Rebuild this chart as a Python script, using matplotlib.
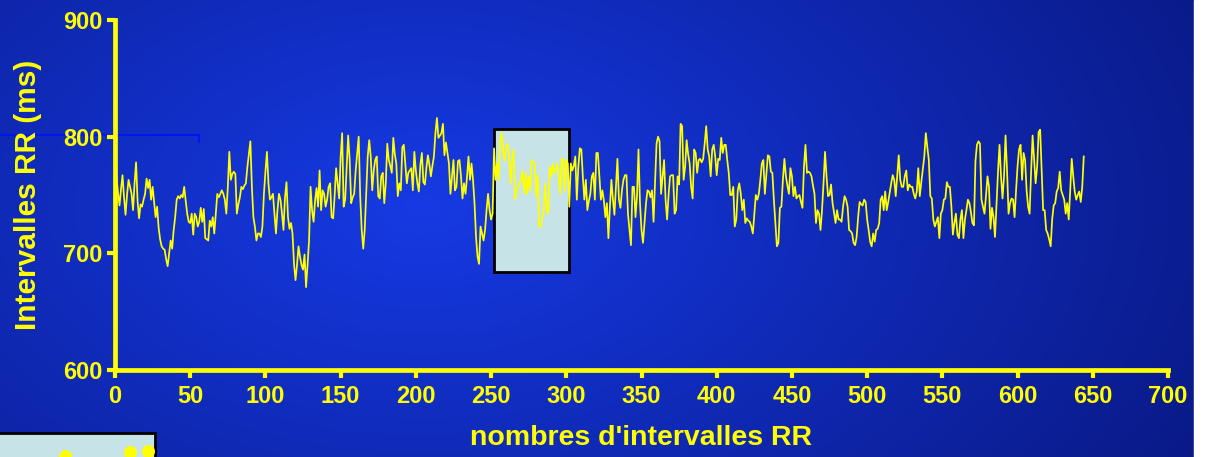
import numpy as np
import matplotlib
matplotlib.use("Agg")
import matplotlib.pyplot as plt
from matplotlib.patches import Rectangle

plt.rcParams['font.family'] = ['Liberation Sans', 'DejaVu Sans']
plt.rcParams['font.weight'] = 'bold'

# RR intervals (ms), beat 1 .. 644
rr_a = [766, 752, 741, 755, 767, 748, 733, 750, 763, 757,
        751, 737, 760, 778, 745, 730, 742, 740, 746, 751,
        764, 756, 763, 746, 757, 744, 731, 740, 722, 712,
        706, 704, 703, 695, 689, 700, 711, 704, 720, 731,
        746, 749, 747, 750, 748, 757, 745, 734, 727, 726,
        734, 716, 734, 731, 723, 727, 739, 727, 738, 713,
        712, 711, 728, 723, 731, 717, 734, 751, 748, 751,
        754, 751, 746, 734, 757, 787, 763, 768, 770, 768,
        734, 742, 748, 757, 755, 758, 760, 774, 785, 796,
        757, 731, 723, 711, 717, 717, 714, 723, 751, 770,
        787, 760, 746, 748, 751, 734, 717, 737, 751, 746,
        734, 720, 748, 761, 731, 721, 726, 717, 691, 677,
        690, 706]
rr_b = [697, 690, 686, 699, 671, 690, 711, 757, 737, 727,
        745, 756, 740, 771, 737, 754, 751, 740, 746, 757,
        760, 731, 730, 749, 773, 760, 747, 783, 803, 740,
        746, 774, 801, 780, 743, 748, 751, 771, 785, 800,
        749, 720, 704, 720, 751, 783, 797, 783, 754, 771,
        780, 783, 749, 747, 766, 769, 743, 760, 794, 780,
        775, 769, 799, 785, 777, 749, 760, 754, 791, 793,
        776, 760, 769, 771, 773, 754, 787, 771, 760, 753,
        776, 786, 761, 759, 773, 784, 776, 766, 775, 783,
        803, 816, 799, 801, 803, 811, 784, 795, 786, 777,
        751, 766, 780, 754, 757, 779, 780, 766, 747, 760,
        751, 765, 783, 763, 777, 763, 743, 714, 697, 691,
        723, 717, 711, 720, 737, 751, 737, 729, 734, 790,
        763, 777, 763, 797, 803, 789, 779, 791, 794, 783,
        760, 780, 789, 746, 754, 757, 760, 763, 771, 751,
        769, 751, 766, 754, 780, 778, 777, 749, 767, 723]
rr_c = [723, 730, 737, 760, 737, 734, 774, 766, 777, 769,
        771, 777, 763, 751, 781, 781, 754, 780, 777, 740,
        777, 771, 775, 783, 746, 774, 790, 789, 766, 746,
        763, 737, 745, 751, 766, 769, 746, 786, 786, 766,
        746, 754, 745, 731, 743, 713, 740, 763, 746, 733,
        757, 781, 746, 739, 754, 763, 767, 767, 734, 720,
        707, 757, 757, 731, 749, 789, 743, 720, 709, 726,
        743, 754, 753, 748, 754, 727, 760, 794, 800, 796,
        751, 766, 780, 746, 729, 750, 766, 767, 767, 734,
        737, 766, 759, 811, 809, 763, 774, 797, 785, 777,
        757, 747, 789, 786, 769, 780, 781, 778, 781, 794,
        809, 789, 783, 766, 789, 793, 783, 767, 781, 780,
        799, 786, 793, 793, 780, 769, 750, 750, 757, 723,
        729, 754, 760, 751, 737, 746, 726, 730, 728, 727,
        723, 717, 734, 750, 746, 751, 763, 777, 780, 751,
        768, 784, 783, 770, 769, 746, 726, 706, 709, 739,
        740, 763, 781, 766, 758, 751, 773, 766, 749, 757]
rr_d = [747, 749, 750, 744, 739, 774, 793, 769, 770, 769,
        766, 758, 751, 726, 737, 734, 720, 737, 760, 787,
        766, 749, 750, 759, 743, 735, 726, 737, 729, 729,
        727, 740, 749, 746, 740, 720, 719, 717, 709, 707,
        714, 731, 744, 742, 741, 746, 744, 729, 720, 710,
        706, 717, 710, 720, 721, 726, 746, 749, 737, 753,
        737, 744, 752, 760, 767, 763, 749, 767, 784, 763,
        757, 757, 766, 771, 754, 759, 757, 757, 751, 747,
        753, 773, 749, 761, 772, 783, 803, 791, 780, 749,
        747, 729, 723, 727, 731, 713, 734, 737, 746, 747,
        761, 757, 757, 740, 716, 726, 734, 716, 713, 729,
        737, 713, 729, 737, 746, 743, 735, 726, 724, 779,
        793, 796, 794, 746, 740, 734, 749, 766, 757, 721,
        739, 731, 714, 743, 770, 793, 766, 747, 766, 801,
        771, 734, 743, 747, 746, 731, 754, 775, 789, 793,
        763, 786, 780, 754, 740, 734, 770, 801, 780, 760,
        774, 804, 806, 771, 737, 737, 720, 717, 712, 706,
        729, 741, 743, 753, 756, 770, 754, 750, 746, 734,
        743, 729, 754, 781, 766, 753, 746, 750, 753, 744,
        757, 783]

rr = np.array(rr_a + rr_b + rr_c + rr_d)
beats = np.arange(1, len(rr) + 1)

x_ticks = list(range(0, 701, 50))
y_ticks = [600, 700, 800, 900]

# highlighted window and leftover blue marker line
box_x = [252, 302]
box_y = [684, 807]
marker_x = [-77, 56, 56]
marker_y = [801, 801, 795]

# dots of the cut-off inset box (figure pixels)
inset_dot_x = [65, 130, 148]
inset_dot_y = [456, 452, 451]

yellow = '#ffff00'
W, H = 1205, 457

fig = plt.figure(figsize=(W / 100, H / 100), dpi=100)

# blue gradient background
bg = fig.add_axes([0, 0, 1, 1], zorder=0)
gx, gy = np.meshgrid(np.linspace(0, 1, 400), np.linspace(1, 0, 200))
t = np.sqrt(((gx - 0.35) / 0.8) ** 2 + ((gy - 0.55) / 1.3) ** 2)
t = np.clip(t, 0, 1)
c0 = np.array([22, 58, 228]) / 255
c1 = np.array([8, 22, 125]) / 255
img = c0[None, None, :] * (1 - t[..., None]) + c1[None, None, :] * t[..., None]
bg.imshow(img, extent=[0, W, 0, H], aspect='auto')
bg.add_patch(Rectangle((1194, 0), 20, H, color='white'))
bg.add_patch(Rectangle((-5, -10), 160, 34, facecolor='#c6e3e8',
                       edgecolor='black', lw=2))
bg.scatter(inset_dot_x, [H - v for v in inset_dot_y], s=70, color=yellow, zorder=3)
bg.set_xlim(0, W)
bg.set_ylim(0, H)
bg.axis('off')

ax = fig.add_axes([115 / W, 87 / H, (1168 - 115) / W, 350 / H], zorder=1)
ax.patch.set_alpha(0)

ax.add_patch(Rectangle((box_x[0], box_y[0]), box_x[1] - box_x[0], box_y[1] - box_y[0],
                       facecolor='#c6e3e8', edgecolor='black', lw=2, zorder=2))
ax.plot(beats, rr, color=yellow, lw=1.25, zorder=3)
ax.plot(marker_x, marker_y, color='#0010ff', lw=1.2, clip_on=False, zorder=1)

ax.set_xlim(0, 700)
ax.set_ylim(600, 900)
ax.set_xticks(x_ticks)
ax.set_yticks(y_ticks)
for s in ['top', 'right']:
    ax.spines[s].set_visible(False)
for s in ['left', 'bottom']:
    ax.spines[s].set_color(yellow)
    ax.spines[s].set_linewidth(3.4)
ax.tick_params(colors=yellow, width=3, length=6, labelsize=17)
ax.tick_params(axis='x', pad=5)
ax.tick_params(axis='y', pad=3)
for lab in ax.get_xticklabels() + ax.get_yticklabels():
    lab.set_fontweight('bold')

ax.set_xlabel("nombres d'intervalles RR", color=yellow, fontsize=20.5,
              fontweight='bold', labelpad=12)
ax.set_ylabel("Intervalles RR (ms)", color=yellow, fontsize=21.5,
              fontweight='bold', labelpad=15)

fig.savefig('out.png', dpi=100)
